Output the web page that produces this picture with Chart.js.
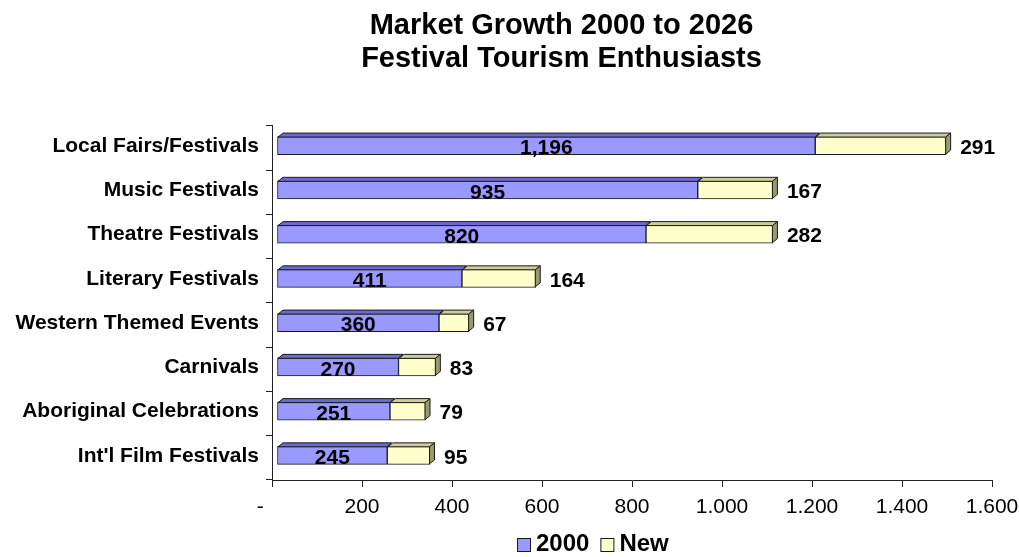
<!DOCTYPE html>
<html><head><meta charset="utf-8">
<script src="https://cdn.jsdelivr.net/npm/chart.js@4/dist/chart.umd.min.js"></script>
<style>html,body{margin:0;padding:0;background:#fff;overflow:hidden}#wrap{width:1019px;height:557px}</style>
</head><body><div id="wrap"><canvas id="c" width="1019" height="557"></canvas></div>
<script>
const categories = ["Local Fairs/Festivals","Music Festivals","Theatre Festivals","Literary Festivals","Western Themed Events","Carnivals","Aboriginal Celebrations","Int'l Film Festivals"];
const values2000 = [1196, 935, 820, 411, 360, 270, 251, 245];
const valuesNew = [291, 167, 282, 164, 67, 83, 79, 95];
const xTickValues = [0, 200, 400, 600, 800, 1000, 1200, 1400, 1600];
const seriesNames = ["2000", "New"];
const titleLines = ["Market Growth 2000 to 2026", "Festival Tourism Enthusiasts"];

const FONT = "'Liberation Sans', Arial, sans-serif";
const fmt = v => String(Math.round(v)).replace(/\B(?=(\d{3})+(?!\d))/g, ',');
const DEPTH_X = 5, DEPTH_Y = 4, SHIFT_X = 5, SHIFT_Y = -2.5;
const faceColors = [{top: '#6A6AD0', side: '#5A5AB0'}, {top: '#CDCD9C', side: '#999970'}];

const bar3d = {
  id: 'bar3d',
  beforeDatasetsDraw(chart) { chart.ctx.save(); chart.ctx.translate(SHIFT_X, SHIFT_Y); },
  afterDatasetsDraw(chart) {
    const ctx = chart.ctx;
    const n = chart.data.datasets.length;
    ctx.lineWidth = 1; ctx.strokeStyle = '#1a1a1a'; ctx.lineJoin = 'miter';
    chart.data.datasets.forEach((ds, di) => {
      const meta = chart.getDatasetMeta(di);
      meta.data.forEach(el => {
        const p = el.getProps(['x', 'y', 'base', 'height'], true);
        const top = p.y - p.height / 2 + 0.5, bottom = p.y + p.height / 2 - 0.5;
        const x0 = p.base + 0.5, x1 = p.x - 0.5;
        ctx.beginPath();
        ctx.moveTo(x0, top); ctx.lineTo(x0 + DEPTH_X, top - DEPTH_Y);
        ctx.lineTo(x1 + DEPTH_X, top - DEPTH_Y); ctx.lineTo(x1, top); ctx.closePath();
        ctx.fillStyle = faceColors[di].top; ctx.fill(); ctx.stroke();
        if (di === n - 1) {
          ctx.beginPath();
          ctx.moveTo(x1, top); ctx.lineTo(x1 + DEPTH_X, top - DEPTH_Y);
          ctx.lineTo(x1 + DEPTH_X, bottom - DEPTH_Y); ctx.lineTo(x1, bottom); ctx.closePath();
          ctx.fillStyle = faceColors[di].side; ctx.fill(); ctx.stroke();
        }
      });
    });
    ctx.restore();
    // value labels
    ctx.save();
    ctx.fillStyle = '#000';
    ctx.font = 'bold 21px ' + FONT;
    ctx.textBaseline = 'middle';
    const m0 = chart.getDatasetMeta(0), m1 = chart.getDatasetMeta(1);
    m0.data.forEach((el, i) => {
      const p = el.getProps(['x', 'y', 'base'], true);
      ctx.textAlign = 'center';
      ctx.fillText(fmt(values2000[i]), (p.x + p.base) / 2 + SHIFT_X, p.y + 0.5);
    });
    m1.data.forEach((el, i) => {
      const p = el.getProps(['x', 'y'], true);
      ctx.textAlign = 'left';
      ctx.fillText(fmt(valuesNew[i]), p.x + SHIFT_X + 14, p.y);
    });
    ctx.restore();
  }
};

const customLegend = {
  id: 'customLegend',
  afterDraw(chart) {
    const ctx = chart.ctx;
    ctx.save();
    ctx.font = 'bold 24px ' + FONT;
    ctx.textBaseline = 'middle';
    ctx.textAlign = 'left';
    const BOX = 14, GAP = 5, SPACING = 11, CENTER_X = 592.5, CENTER_Y = 545;
    const items = chart.data.datasets.map(ds => ({text: ds.label, fill: ds.backgroundColor, w: ctx.measureText(ds.label).width}));
    const total = items.reduce((s, it) => s + BOX + GAP + it.w, 0) + SPACING * (items.length - 1);
    let x = Math.round(CENTER_X - total / 2);
    items.forEach(it => {
      ctx.fillStyle = it.fill;
      ctx.fillRect(x + 0.5, CENTER_Y - 7 + 0.5, BOX - 1, BOX - 1);
      ctx.strokeStyle = '#1a1a1a'; ctx.lineWidth = 1;
      ctx.strokeRect(x + 0.5, CENTER_Y - 7 + 0.5, BOX - 1, BOX - 1);
      ctx.fillStyle = '#000';
      ctx.fillText(it.text, x + BOX + GAP, CENTER_Y - 0.5);
      x += BOX + GAP + it.w + SPACING;
    });
    ctx.restore();
  }
};

const shiftTitle = {
  id: 'shiftTitle',
  afterLayout(chart) {
    const t = chart.titleBlock;
    if (t) { t.left += 65.5; t.right += 65.5; }
  }
};

new Chart(document.getElementById('c'), {
  type: 'bar',
  data: {
    labels: categories,
    datasets: [
      {label: seriesNames[0], data: values2000, backgroundColor: '#9999FF', borderColor: '#1a1a1a', borderWidth: 1, borderSkipped: false, barThickness: 18},
      {label: seriesNames[1], data: valuesNew, backgroundColor: '#FFFFCC', borderColor: '#1a1a1a', borderWidth: 1, borderSkipped: false, barThickness: 18}
    ]
  },
  options: {
    indexAxis: 'y',
    responsive: false,
    animation: false,
    devicePixelRatio: 1,
    locale: 'en-US',
    layout: {padding: {left: 0, right: 27, top: 0, bottom: 44}},
    scales: {
      x: {
        type: 'linear', stacked: true, min: 0, max: 1600,
        afterBuildTicks: s => { s.ticks = xTickValues.map(v => ({value: v})); },
        afterFit: s => { s.height = 33; s.paddingLeft = 0; s.paddingRight = 0; },
        ticks: {color: '#000', font: {family: FONT, size: 21, lineHeight: 1.2}, padding: 7.4, maxRotation: 0, autoSkip: false,
          callback: v => v === 0 ? '-    ' : fmt(v)},
        grid: {drawOnChartArea: false, drawTicks: true, tickLength: 7, color: '#222', tickColor: '#222'},
        border: {display: true, color: '#222', width: 1}
      },
      y: {
        stacked: true,
        afterFit: s => { s.width = 272; s.paddingTop = 0; s.paddingBottom = 0; },
        ticks: {color: '#000', font: {family: FONT, size: 21, weight: 'bold'}, padding: 7, labelOffset: -2},
        grid: {drawOnChartArea: false, drawTicks: true, tickLength: 6, color: '#222', tickColor: '#222', offset: true},
        border: {display: true, color: '#222', width: 1}
      }
    },
    plugins: {
      title: {display: true, text: titleLines, color: '#000', font: {family: FONT, size: 29, weight: 'bold', lineHeight: 1.12}, padding: {top: 10, bottom: 51}},
      legend: {display: false},
      tooltip: {enabled: false}
    }
  },
  plugins: [bar3d, customLegend, shiftTitle]
});
</script></body></html>
